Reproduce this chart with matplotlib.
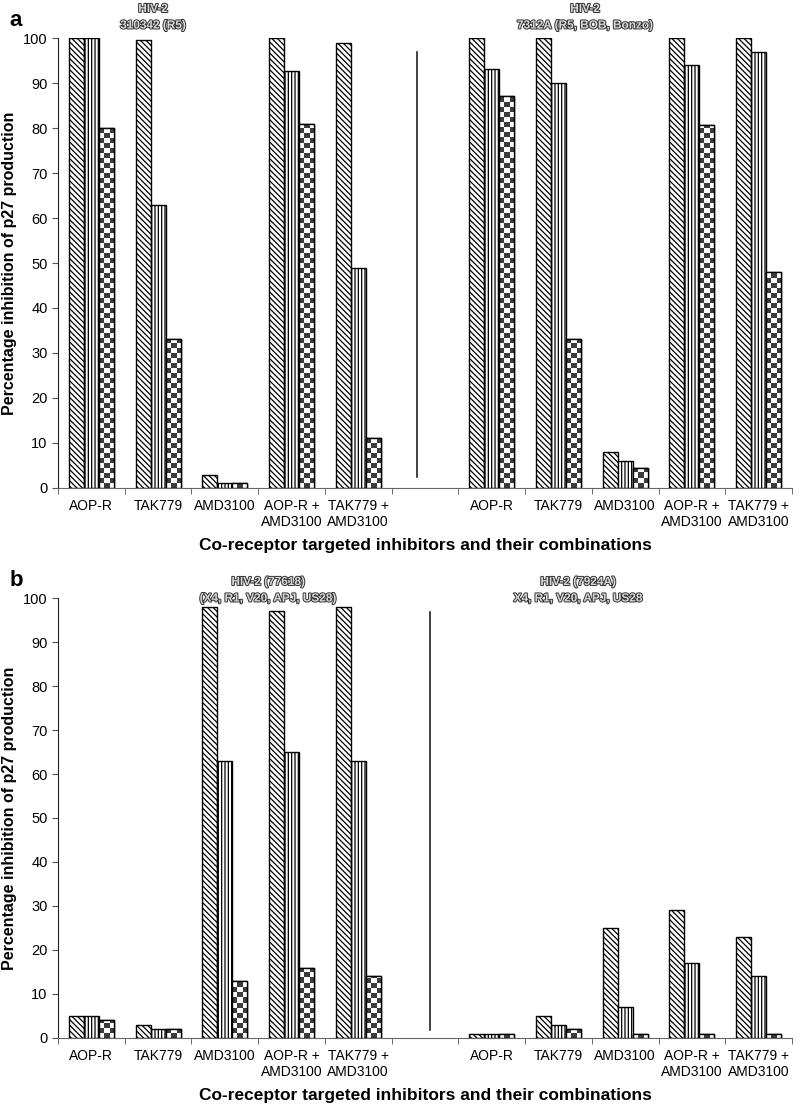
import numpy as np
import matplotlib
matplotlib.use('Agg')
from matplotlib import pyplot as plt
from matplotlib import patheffects as pe

plt.rcParams['font.family'] = ['Liberation Sans', 'DejaVu Sans']
plt.rcParams['hatch.linewidth'] = 0.9

# category labels (one gap between the two virus groups)
cats = ['AOP-R', 'TAK779', 'AMD3100', 'AOP-R +\nAMD3100', 'TAK779 +\nAMD3100']
pos = [0, 1, 2, 3, 4, 6, 7, 8, 9, 10]

# panel a : HIV-2 310342 (left) and 7312A (right)
a_s1 = [100, 99.5, 2.8, 100, 99, 100, 100, 8, 100, 100]
a_s2 = [100, 63, 1, 92.7, 49, 93.2, 90, 6, 94, 97]
a_s3 = [80, 33, 1, 81, 11, 87.2, 33, 4.5, 80.6, 48]

# panel b : HIV-2 77618 (left) and 7924A (right)
b_s1 = [5, 3, 98, 97, 98, 1, 5, 25, 29, 23]
b_s2 = [5, 2, 63, 65, 63, 1, 3, 7, 17, 14]
b_s3 = [4, 2, 13, 16, 14, 1, 2, 1, 1, 1]

a_heads = ['HIV-2\n310342 (R5)', 'HIV-2\n7312A (R5, BOB, Bonzo)']
b_heads = ['HIV-2 (77618)\n(X4, R1, V20, APJ, US28)', 'HIV-2 (7924A)\nX4, R1, V20, APJ, US28']

fig = plt.figure(figsize=(8, 11.06), dpi=100)
W = 0.225


def panel(rect, s1, s2, s3, heads, head_x, head_y, letter, div_x, div_y, rows):
    ax = fig.add_axes(rect)
    x = np.array(pos, dtype=float)
    ax.bar(x - W, s1, W, color='white', edgecolor='black', lw=1, hatch='\\\\\\\\\\\\', zorder=2)
    ax.bar(x, s2, W, color='white', edgecolor='black', lw=1, hatch='|||||', zorder=2)
    b3 = ax.bar(x + W, s3, W, color='white', edgecolor='black', lw=1, zorder=2)
    chk = (np.indices((rows, 3)).sum(axis=0) % 2).astype(float)
    for p in b3:
        im = ax.imshow(chk, extent=[p.get_x(), p.get_x() + p.get_width(), 0, 100],
                       cmap='gray_r', vmin=0, vmax=1.3, interpolation='nearest',
                       aspect='auto', zorder=2.5, origin='lower')
        im.set_clip_path(p)
    ax.bar(x + W, s3, W, fill=False, edgecolor='black', lw=1, zorder=3)
    ax.plot([div_x, div_x], div_y, color='#222', lw=1.2)
    ax.set_xlim(-0.5, 10.5)
    ax.set_ylim(0, 100)
    ax.set_yticks(range(0, 101, 10))
    ax.set_xticks(pos)
    ax.set_xticklabels(cats * 2, fontsize=10)
    ax.set_xticks(np.arange(-0.5, 11, 1), minor=True)
    ax.tick_params(axis='x', which='major', length=0, pad=8)
    ax.tick_params(axis='x', which='minor', length=4, direction='out', color='#555')
    ax.tick_params(axis='y', labelsize=10.5, length=4, color='#555')
    for s in ['top', 'right']:
        ax.spines[s].set_visible(False)
    ax.spines['bottom'].set_color('#666')
    ax.spines['left'].set_color('#222')
    ax.set_ylabel('Percentage inhibition of p27 production', fontsize=11.5,
                  fontweight='bold', labelpad=4)
    ax.set_xlabel('Co-receptor targeted inhibitors and their combinations',
                  fontsize=12.5, fontweight='bold', labelpad=6)
    for h, hx in zip(heads, head_x):
        fig.text(hx, head_y, h, ha='center', va='top', fontsize=8.5,
                 fontweight='bold', color='#d8d8d8', linespacing=1.5,
                 path_effects=[pe.withStroke(linewidth=1.4, foreground='#333')])
    fig.text(0.012, rect[1] + rect[3] + 0.025, letter, fontsize=16,
             fontweight='bold', va='top')
    return ax


panel([0.0725, 0.5588, 0.9175, 0.4068], a_s1, a_s2, a_s3, a_heads,
      [153 / 800, 585 / 800], 1 - 3 / 1106, 'a', 4.88, [2.4, 96.9], 90)
panel([0.0725, 0.0615, 0.9175, 0.3978], b_s1, b_s2, b_s3, b_heads,
      [268 / 800, 578 / 800], 1 - 576 / 1106, 'b', 5.08, [1.8, 96.8], 88)

fig.savefig('out.png', dpi=100)
